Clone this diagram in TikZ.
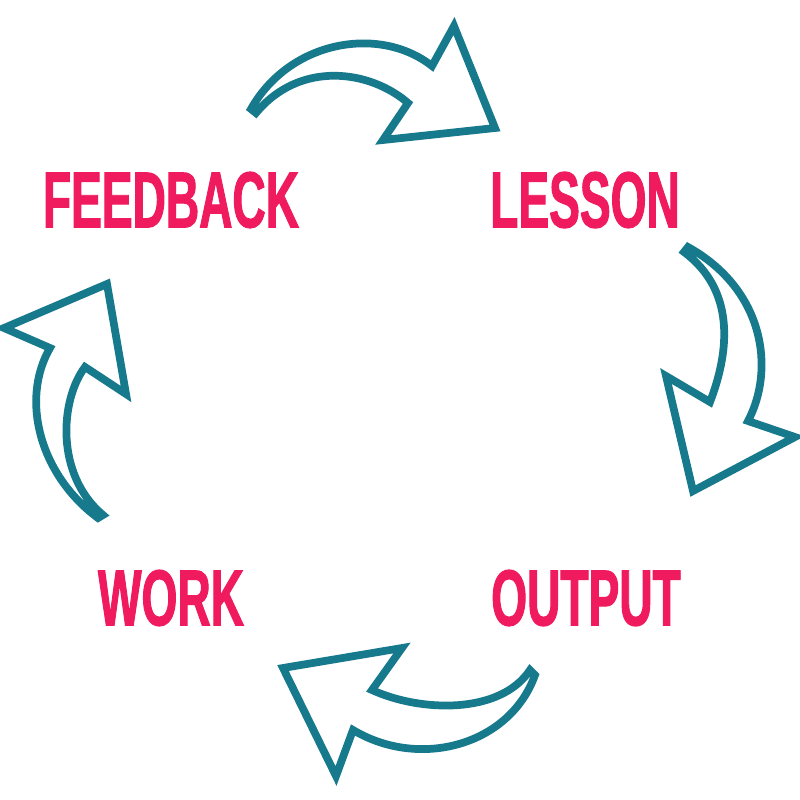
\documentclass[tikz,border=0pt]{standalone}
\usepackage{fontspec}
\newfontfamily\cyclefont[FakeStretch=0.58, FakeBold=1.2]{Liberation Sans}
\definecolor{wordpink}{HTML}{F01A5F}
\definecolor{arrowteal}{HTML}{17798C}
\tikzset{
  cyclearrow/.style={draw=arrowteal, line width=2.2pt, line join=miter, fill=white},
  cycleword/.style={text=wordpink, inner sep=0pt, font=\cyclefont\bfseries\fontsize{22.6}{26}\selectfont}
}
\begin{document}
\begin{tikzpicture}[x=0.01cm, y=-0.01cm]
    \useasboundingbox (0,0) rectangle (800,800);

    % Words of the cycle
    \node[cycleword] (feedback) at (171,200) {FEEDBACK};
    \node[cycleword] (lesson) at (585,200) {LESSON};
    \node[cycleword] (output) at (586,598) {OUTPUT};
    \node[cycleword] (work) at (171,598) {WORK};

    % Top arrow: feedback to lesson
    \draw[cyclearrow] (251,109) .. controls (290,40) and (380,25) .. (432,66) -- (454,26) -- (495,128)
        -- (383,140) -- (408,103) .. controls (370,70) and (300,60) .. (256,113) -- cycle;

    % Right arrow: lesson to output
    \draw[cyclearrow] (688,247) .. controls (765,290) and (775,370) .. (748,421) -- (795,437) -- (693,491)
        -- (666,376) -- (710,402) .. controls (730,350) and (735,290) .. (684,252) -- cycle;

    % Bottom arrow: output to work
    \draw[cyclearrow] (535,675) .. controls (510,745) and (420,770) .. (353,730) -- (336,776) -- (283,668)
        -- (402,648) -- (372,690) .. controls (420,712) and (500,715) .. (530,670) -- cycle;

    % Left arrow: work to feedback
    \draw[cyclearrow] (98,518) .. controls (40,475) and (20,400) .. (50,348) -- (4,328) -- (107,284)
        -- (126,394) -- (85,367) .. controls (60,400) and (55,475) .. (103,515) -- cycle;
\end{tikzpicture}
\end{document}
